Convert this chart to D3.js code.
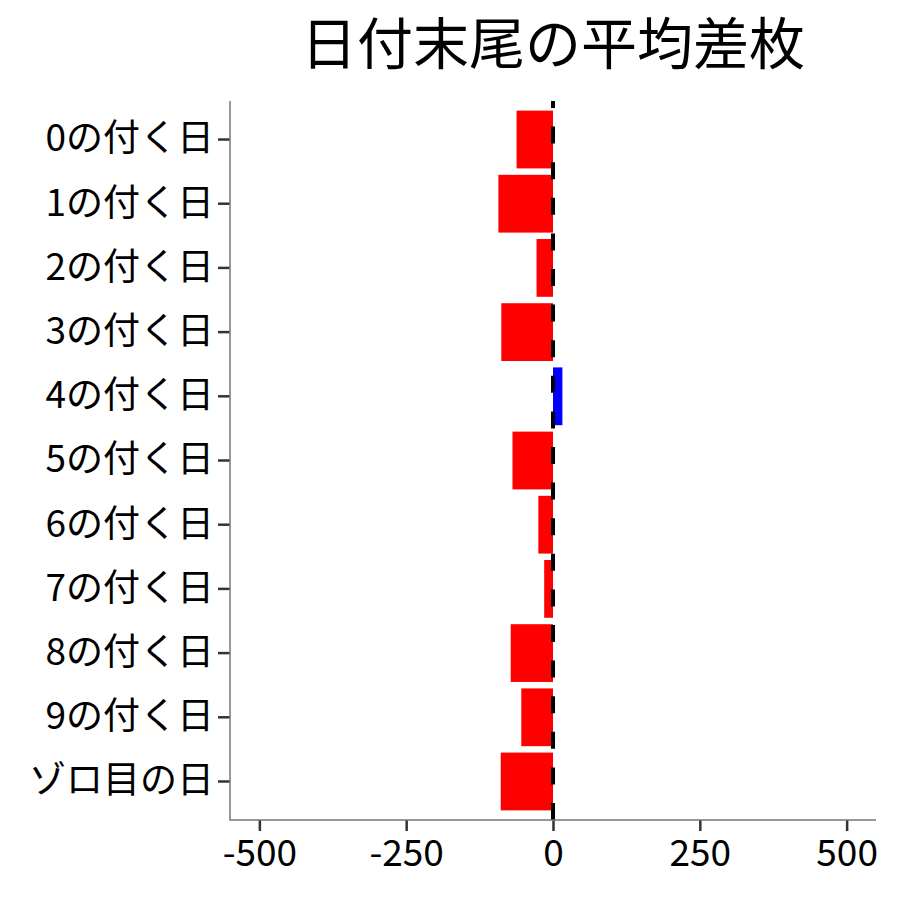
<!DOCTYPE html>
<html>
<head>
<meta charset="utf-8">
<script src="https://cdn.jsdelivr.net/npm/d3@7"></script>
<style>
  body { margin: 0; background: #fff; }
  svg { display: block; font-family: "Noto Sans CJK JP", "Noto Sans", sans-serif; }
</style>
</head>
<body>
<svg id="chart" width="900" height="900"></svg>
<script>
// データ
const titleText = "日付末尾の平均差枚";
const categories = ["0の付く日", "1の付く日", "2の付く日", "3の付く日", "4の付く日",
    "5の付く日", "6の付く日", "7の付く日", "8の付く日", "9の付く日", "ゾロ目の日"];
const avgDiff = [-62, -93, -28, -88, 16, -69, -25, -15, -72, -54, -89];
const xTicks = [-500, -250, 0, 250, 500];
const xDomain = [-550, 550];

// レイアウト
const panel = { left: 230, right: 876, top: 101, bottom: 820 };

const svg = d3.select("#chart");

const x = d3.scaleLinear()
    .domain(xDomain)
    .range([panel.left, panel.right]);

const y = d3.scaleBand()
    .domain(categories)
    .range([panel.top, panel.bottom])
    .paddingInner(0.1)
    .paddingOuter(0.15);

// タイトル
svg.append("text")
    .attr("x", (panel.left + panel.right) / 2)
    .attr("y", 64)
    .attr("text-anchor", "middle")
    .attr("font-size", 56)
    .attr("fill", "#000")
    .text(titleText);

// 棒
svg.append("g")
    .selectAll("rect")
    .data(categories.map((c, i) => ({ name: c, value: avgDiff[i] })))
    .join("rect")
    .attr("x", d => x(Math.min(0, d.value)))
    .attr("width", d => Math.abs(x(d.value) - x(0)))
    .attr("y", d => y(d.name))
    .attr("height", y.bandwidth())
    .attr("fill", d => d.value < 0 ? "#FF0000" : "#0000FF");

// ゼロの破線（下から描く）
svg.append("line")
    .attr("x1", x(0))
    .attr("x2", x(0))
    .attr("y1", panel.bottom)
    .attr("y2", panel.top)
    .attr("stroke", "#000")
    .attr("stroke-width", 4)
    .attr("stroke-dasharray", "17,18.6");

// x軸
const xAxis = svg.append("g")
    .attr("transform", `translate(0,${panel.bottom})`)
    .call(d3.axisBottom(x).tickValues(xTicks).tickSize(11).tickPadding(9).tickFormat(d3.format("d")));
xAxis.select(".domain").remove();
xAxis.selectAll(".tick line").attr("stroke", "#333").attr("stroke-width", 2.5);
xAxis.selectAll(".tick text")
    .attr("font-size", 37)
    .attr("fill", "#000")
    .attr("font-family", "'Noto Sans CJK JP', sans-serif")
    .text(d => d < 0 ? "-" + Math.abs(d) : d);

// y軸
const yAxis = svg.append("g")
    .attr("transform", `translate(${panel.left},0)`)
    .call(d3.axisLeft(y).tickSize(12).tickPadding(4));
yAxis.select(".domain").remove();
yAxis.selectAll(".tick line").attr("stroke", "#333").attr("stroke-width", 2.5);
yAxis.selectAll(".tick text")
    .attr("font-size", 37)
    .attr("fill", "#000")
    .attr("font-family", "'Noto Sans CJK JP', sans-serif");

// 軸線
svg.append("path")
    .attr("d", `M${panel.left},${panel.top}V${panel.bottom}H${panel.right}`)
    .attr("fill", "none")
    .attr("stroke", "#777")
    .attr("stroke-width", 1.5);
</script>
</body>
</html>
